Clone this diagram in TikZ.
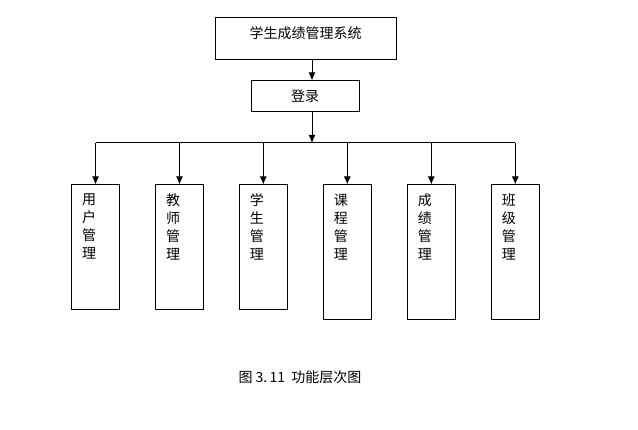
\documentclass[tikz,border=0pt]{standalone}
\usepackage{fontspec}
\setmainfont{Noto Sans CJK SC}
\usepackage{tikz}
\usetikzlibrary{arrows}
\usetikzlibrary{arrows.meta}
\usetikzlibrary{positioning}
\tikzset{>={Latex[length=8pt, width=7pt]}}
\tikzstyle{box} = [rectangle, draw=black, line width=1pt, inner sep=0, font=\fontsize{14}{18}\selectfont]
\tikzstyle{sub} = [box, minimum width=48, minimum height=125]
\tikzstyle{subl} = [sub, minimum height=135]
\tikzstyle{vtxt} = [anchor=north, align=center, inner sep=0, font=\fontsize{14}{18}\selectfont]
\tikzstyle{con} = [line width=1pt, draw=black]

\begin{document}
\begin{tikzpicture}[x=1pt, y=-1pt]
\useasboundingbox (0,0) rectangle (638,430);
\node [box, minimum width=181, minimum height=42, text height=8, text depth=8] (sys) at (305.5, 39) {学生成绩管理系统};
\node [box, minimum width=108, minimum height=31] (login) at (305, 96.5) {登录};
\coordinate (trunk) at (312, 143);
\draw [con, ->] (sys.south -| trunk) to (login.north -| trunk);
\draw [con, ->] (login.south -| trunk) to (trunk);
% modules
\node [sub] (yh) at (95.5, 247.5) {};
\node [sub] (js) at (179.5, 247.5) {};
\node [sub] (xs) at (263.3, 247.5) {};
\node [subl] (kc) at (347.3, 252.5) {};
\node [subl] (cj) at (431.3, 252.5) {};
\node [subl] (bj) at (515.3, 252.5) {};
\node [vtxt] (yht) at ([xshift=-6.5pt, yshift=-9pt]yh.north) {用\\户\\管\\理};
\node [vtxt] (jst) at ([xshift=-6.5pt, yshift=-9pt]js.north) {教\\师\\管\\理};
\node [vtxt] (xst) at ([xshift=-6.5pt, yshift=-9pt]xs.north) {学\\生\\管\\理};
\node [vtxt] (kct) at ([xshift=-6.5pt, yshift=-9pt]kc.north) {课\\程\\管\\理};
\node [vtxt] (cjt) at ([xshift=-6.5pt, yshift=-9pt]cj.north) {成\\绩\\管\\理};
\node [vtxt] (bjt) at ([xshift=-6.5pt, yshift=-9pt]bj.north) {班\\级\\管\\理};
\draw [con] (yh.north |- trunk) to (bj.north |- trunk);
\foreach \m in {yh, js, xs, kc, cj, bj}
  \draw [con, ->] (\m.north |- trunk) to (\m.north);
%\node at (300, 350) {};
\node [inner sep=0, font=\fontsize{14}{16}\selectfont] (cap) at (300, 377) {图 3.\,11\ \ 功能层次图};
\end{tikzpicture}
\end{document}
